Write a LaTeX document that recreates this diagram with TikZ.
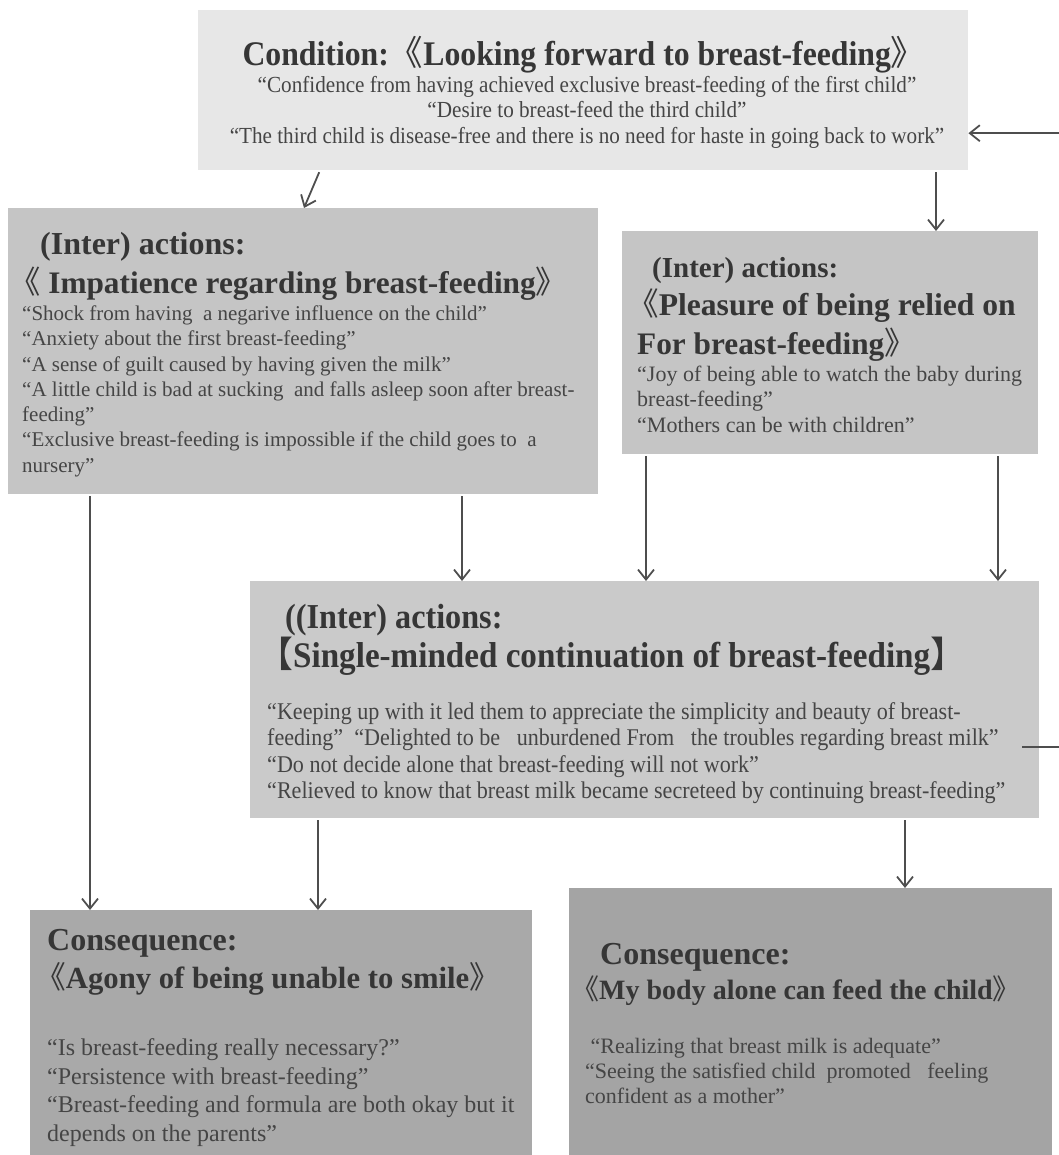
\documentclass[tikz,border=0pt]{standalone}
\usepackage{fontspec}
\setmainfont{Liberation Serif}
\newfontfamily\condg[FakeStretch=0.92]{Liberation Serif}
\newfontfamily\cjkf{Noto Sans CJK SC}
\usetikzlibrary{arrows.meta}
\definecolor{c1}{HTML}{E7E7E7}
\definecolor{c2}{HTML}{C5C5C5}
\definecolor{c3}{HTML}{CACACA}
\definecolor{c4}{HTML}{A9A9A9}
\definecolor{c5}{HTML}{A4A4A4}
\definecolor{txt}{HTML}{363636}
\definecolor{btxt}{HTML}{454545}
\definecolor{lnc}{HTML}{4E4E4E}
\newcommand\myla{{\cjkf\mdseries 《}}
\newcommand\myra{{\cjkf\mdseries 》}}
\newcommand\mylb{{\cjkf\mdseries 【}}
\newcommand\myrb{{\cjkf\mdseries 】}}
\tikzset{
  panel/.style={draw=none, inner sep=0pt, anchor=north west},
  ttl/.style={inner sep=0pt, anchor=base west, text=txt, font=\bfseries\fontsize{#1}{#1}\selectfont},
  body/.style={inner sep=0pt, anchor=north west, align=left, text=btxt, font=\fontsize{#1}{25.3pt}\selectfont},
  arr/.style={draw=lnc, line width=1.8pt, -{Straight Barb[length=10pt,width=16pt,line width=1.8pt]}, shorten <=2pt}
}
\begin{document}
\begin{tikzpicture}[x=1pt,y=-1pt]
\useasboundingbox (0,0) rectangle (1058,1155);
% panels
\node[panel, fill=c1, minimum width=770pt, minimum height=160pt] (cond) at (198,10) {};
\node[panel, fill=c2, minimum width=590pt, minimum height=286pt] (imp) at (8,208) {};
\node[panel, fill=c2, minimum width=416pt, minimum height=223pt] (pleas) at (622,231) {};
\node[panel, fill=c3, minimum width=789pt, minimum height=237pt] (single) at (250,581) {};
\node[panel, fill=c4, minimum width=502pt, minimum height=250pt] (agony) at (30,910) {};
\node[panel, fill=c5, minimum width=483pt, minimum height=272pt] (mybody) at (569,888) {};

% condition texts
\node[inner sep=0pt, anchor=base, text=txt, font=\condg\bfseries\fontsize{34.5}{34.5}\selectfont] (condt) at (584,66) {Condition:\myla Looking forward to breast-feeding\myra};
\node[inner sep=0pt, anchor=north, align=center, text=btxt, font=\condg\fontsize{23}{25.5}\selectfont] (condb) at (587,76)
{“Confidence from having achieved exclusive breast-feeding of the first child”\\
“Desire to breast-feed the third child”\\
“The third child is disease-free and there is no need for haste in going back to work”};

% impatience
\node[ttl=32] (impa) at (40,255) {(Inter) actions:};
\node[ttl=31.3] (impt) at (9,294) {\myla\ Impatience regarding breast-feeding\myra};
\node[body=21] (impb) at (22,305.5)
{“Shock from having\ \ a negarive influence on the child”\\
“Anxiety about the first breast-feeding”\\
“A sense of guilt caused by having given the milk”\\
“A little child is bad at sucking\ \ and falls asleep soon after breast-\\
feeding”\\
“Exclusive breast-feeding is impossible if the child goes to\ \ a\\
nursery”};

% pleasure
\node[ttl=29] (plea) at (652,277) {(Inter) actions:};
\node[ttl=31.6] (plet1) at (627,316) {\myla Pleasure of being relied on};
\node[ttl=31.3] (plet2) at (637,354) {For breast-feeding\myra};
\node[body=22, font=\fontsize{22}{25.5}\selectfont] (pleb) at (637,365.8)
{“Joy of being able to watch the baby during\\
breast-feeding”\\
“Mothers can be with children”};

% single-minded
\node[ttl=35, font=\condg\bfseries\fontsize{35}{35}\selectfont] (sina) at (285,628) {((Inter) actions:};
\node[ttl=36, font=\condg\bfseries\fontsize{36}{36}\selectfont] (sint) at (257,667) {\mylb Single-minded continuation of breast-feeding\myrb};
\node[body=24, font=\condg\fontsize{24}{26.3}\selectfont] (sinb) at (267,702.4)
{“Keeping up with it led them to appreciate the simplicity and beauty of breast-\\
feeding”\ \ “Delighted to be\ \ \ unburdened From\ \ \ the troubles regarding breast milk”\\
“Do not decide alone that breast-feeding will not work”\\
“Relieved to know that breast milk became secreteed by continuing breast-feeding”};

% agony
\node[ttl=32] (agoa) at (47,950) {Consequence:};
\node[ttl=30.7] (agot) at (35,988) {\myla Agony of being unable to smile\myra};
\node[body=24, font=\fontsize{24}{28.7}\selectfont] (agob) at (47,1038.4)
{“Is breast-feeding really necessary?”\\
“Persistence with breast-feeding”\\
“Breast-feeding and formula are both okay but it\\
depends on the parents”};

% my body
\node[ttl=32] (boda) at (600,964) {Consequence:};
\node[ttl=28] (bodt) at (571,999) {\myla My body alone can feed the child\myra};
\node[body=22, font=\fontsize{22}{25.3}\selectfont] (bodb) at (585,1037.8)
{\ “Realizing that breast milk is adequate”\\
“Seeing the satisfied child\ \ promoted\ \ \ feeling\\
confident as a mother”};

% connectors
\draw[arr] ([xshift=122pt]cond.south west) -- ([xshift=296pt]imp.north west);
\draw[arr] ([xshift=738pt]cond.south west) -- ([xshift=738pt]cond.south west |- pleas.north);
\draw[arr] ([xshift=82pt]imp.south west) -- ([xshift=82pt]imp.south west |- agony.north);
\draw[arr] ([xshift=454pt]imp.south west) -- ([xshift=454pt]imp.south west |- single.north);
\draw[arr] ([xshift=24pt]pleas.south west) -- ([xshift=24pt]pleas.south west |- single.north);
\draw[arr] ([xshift=376pt]pleas.south west) -- ([xshift=376pt]pleas.south west |- single.north);
\draw[arr] ([xshift=68pt]single.south west) -- ([xshift=68pt]single.south west |- agony.north);
\draw[arr] ([xshift=655pt]single.south west) -- ([xshift=655pt]single.south west |- mybody.north);
\draw[arr, shorten <=0pt] ([xshift=-17pt,yshift=-47.5pt]single.east) -- ++(60pt,0) |- ([yshift=-43pt]cond.east);
\end{tikzpicture}
\end{document}
